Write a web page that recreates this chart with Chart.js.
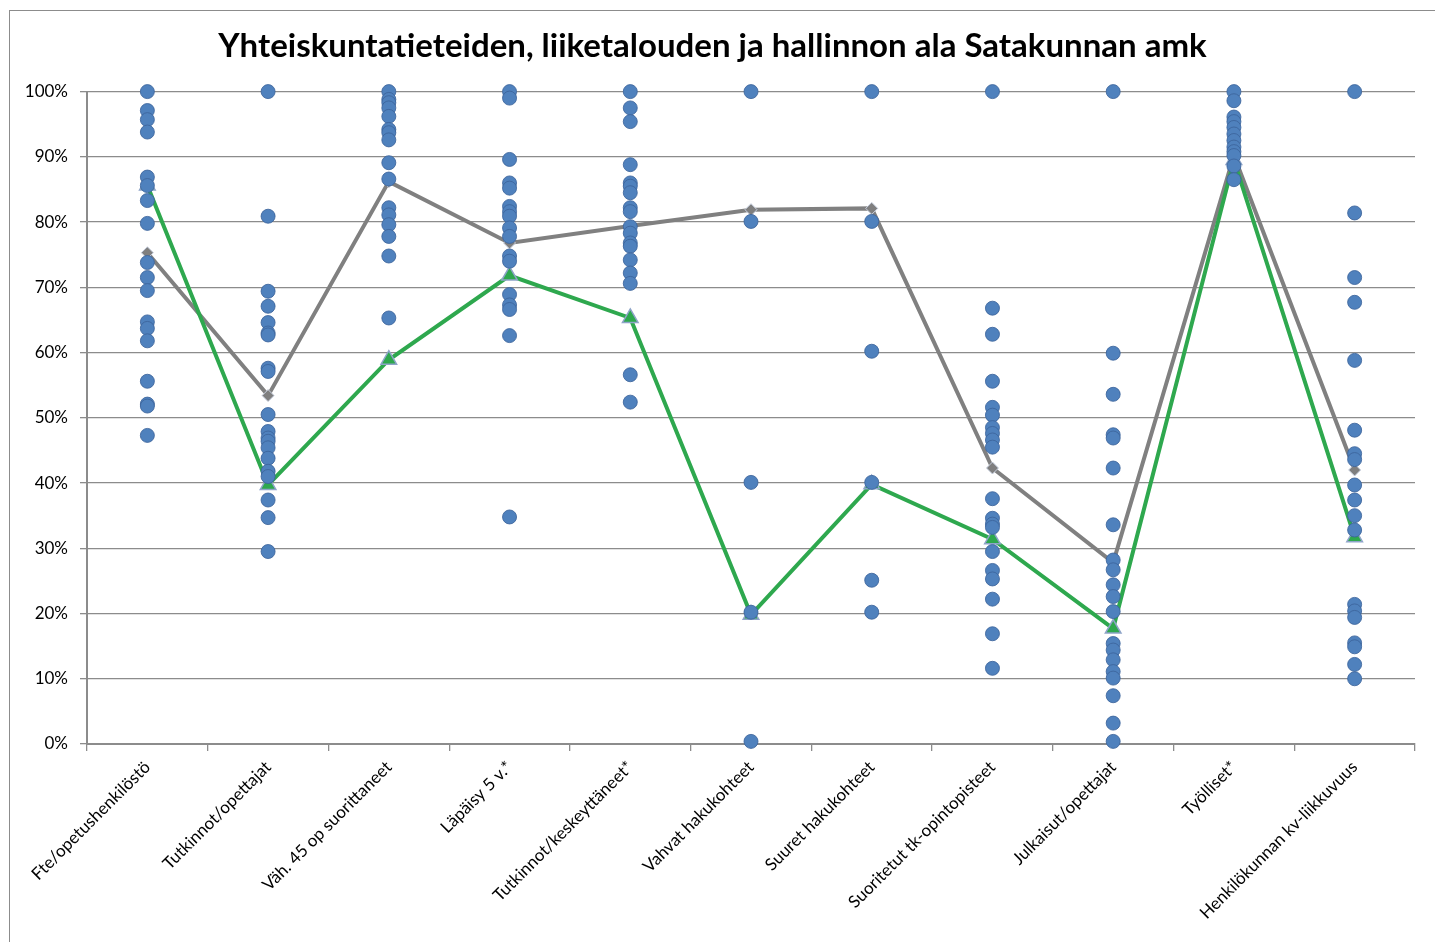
<!DOCTYPE html>
<html>
<head>
<meta charset="utf-8">
<script src="https://cdn.jsdelivr.net/npm/chart.js@4/dist/chart.umd.min.js"></script>
<style>
  body { margin: 0; background: #fff; overflow: hidden; }
  #frame { position: absolute; left: 9px; top: 10px; width: 1440px; height: 960px; border: 1px solid #8c8c8c; }
  #wrap { position: absolute; left: 0; top: 0; width: 1435px; height: 942px; }
</style>
</head>
<body>
<div id="frame"></div>
<div id="wrap"><canvas id="ammChart"></canvas></div>
<script>
// Categories (x axis)
const categories = [
    'Fte/opetushenkilöstö', 'Tutkinnot/opettajat', 'Väh. 45 op suorittaneet', 'Läpäisy 5 v.*',
    'Tutkinnot/keskeyttäneet*', 'Vahvat hakukohteet', 'Suuret hakukohteet',
    'Suoritetut tk-opintopisteet', 'Julkaisut/opettajat', 'Työlliset*', 'Henkilökunnan kv-liikkuvuus'
];

// Other amk's (blue dots), one array per category, percent
const fteDots = [100, 97.1, 95.7, 93.8, 86.9, 85.6, 83.3, 79.8, 73.8, 71.5, 69.5, 64.7, 63.7, 61.8, 55.6, 52.1, 51.8, 47.3];
const tutkinnotOpeDots = [100, 80.9, 69.4, 67.1, 64.6, 63.0, 62.7, 57.6, 57.1, 50.5, 47.9, 46.9, 46.4, 45.4, 43.8, 41.8, 41.0, 37.4, 34.7, 29.5];
const vah45Dots = [100, 98.8, 98.3, 97.5, 96.2, 94.2, 93.7, 92.6, 89.1, 86.6, 82.2, 81.1, 79.6, 77.8, 74.8, 65.3];
const lapaisyDots = [100, 99.0, 89.6, 86.0, 85.2, 82.4, 81.6, 80.9, 79.1, 77.8, 74.8, 74.0, 68.9, 67.3, 66.6, 62.6, 34.8];
const keskeyttaneetDots = [100, 97.5, 95.4, 88.8, 86.0, 85.5, 84.5, 82.2, 81.6, 79.3, 78.3, 76.8, 76.3, 74.2, 72.2, 70.6, 56.6, 52.4];
const vahvatDots = [100, 80.1, 40.1, 20.2, 0.4];
const suuretDots = [100, 80.1, 60.2, 40.1, 25.1, 20.2];
const tkDots = [100, 66.8, 62.8, 55.6, 51.6, 50.4, 48.5, 47.6, 46.6, 45.5, 37.6, 34.6, 33.7, 33.2, 29.5, 26.6, 25.3, 22.2, 16.9, 11.6];
const julkaisutDots = [100, 59.9, 53.6, 47.4, 46.9, 42.3, 33.6, 28.2, 26.7, 24.4, 22.6, 20.3, 15.4, 14.4, 12.9, 11.1, 10.1, 7.4, 3.2, 0.4];
const tyollisetDots = [100, 98.6, 96.1, 95.4, 94.5, 93.5, 92.5, 91.5, 90.8, 90.2, 88.6, 86.5];
const kvDots = [100, 81.4, 71.5, 67.7, 58.8, 48.1, 44.5, 43.6, 39.7, 37.4, 35.0, 32.8, 21.4, 20.4, 19.4, 15.5, 14.9, 12.2, 10.0];

// Average of all (gray line) and Satakunnan amk (green line)
const averageValues = [75.3, 53.4, 86.2, 76.8, 79.4, 81.9, 82.1, 42.3, 27.8, 90.2, 42.0];
const satakuntaValues = [85.6, 39.7, 58.9, 71.8, 65.3, 19.8, 39.8, 31.4, 17.7, 89.5, 31.7];

const yTicks = [0, 10, 20, 30, 40, 50, 60, 70, 80, 90, 100];

const dotColumns = [fteDots, tutkinnotOpeDots, vah45Dots, lapaisyDots, keskeyttaneetDots,
    vahvatDots, suuretDots, tkDots, julkaisutDots, tyollisetDots, kvDots];

const scatterPoints = [];
dotColumns.forEach(function(col, i) {
    col.forEach(function(v) {
        scatterPoints.push({ x: categories[i], y: v });
    });
});

const gridGray = '#8c8c8c';

const ctx = document.getElementById('ammChart').getContext('2d');
new Chart(ctx, {
    type: 'line',
    data: {
        labels: categories,
        datasets: [
            {
                label: 'Muut',
                data: scatterPoints,
                showLine: false,
                backgroundColor: '#4f81bd',
                borderColor: 'rgba(60, 100, 155, 0.85)',
                borderWidth: 1,
                pointRadius: 7,
                pointHoverRadius: 7,
                clip: false,
                order: 0
            },
            {
                label: 'Kaikki',
                data: averageValues,
                borderColor: '#808080',
                borderWidth: 4,
                pointStyle: 'rectRot',
                pointRadius: 6,
                pointBackgroundColor: '#7f7f7f',
                pointBorderColor: '#c8d0e0',
                pointBorderWidth: 1,
                tension: 0,
                clip: false,
                order: 2
            },
            {
                label: 'Satakunnan amk',
                data: satakuntaValues,
                borderColor: '#2ea84e',
                borderWidth: 4,
                pointStyle: 'triangle',
                pointRadius: 9,
                pointBackgroundColor: '#2ea84e',
                pointBorderColor: '#8ea4c8',
                pointBorderWidth: 1.5,
                tension: 0,
                clip: false,
                order: 1
            }
        ]
    },
    options: {
        responsive: true,
        maintainAspectRatio: false,
        animation: false,
        layout: { padding: { left: 10, right: 20, top: 0, bottom: 0 } },
        plugins: {
            legend: { display: false },
            tooltip: { enabled: false },
            title: {
                display: true,
                text: 'Yhteiskuntatieteiden, liiketalouden ja hallinnon ala Satakunnan amk',
                color: '#000',
                font: { family: 'Lato', size: 33, weight: 'bold' },
                padding: { top: 27, bottom: 25 }
            }
        },
        scales: {
            x: {
                type: 'category',
                offset: true,
                grid: {
                    display: true,
                    offset: true,
                    drawOnChartArea: false,
                    drawTicks: true,
                    tickLength: 7,
                    color: gridGray,
                    lineWidth: 1.3
                },
                border: { display: true, color: gridGray, width: 2 },
                ticks: {
                    autoSkip: false,
                    minRotation: 45,
                    maxRotation: 45,
                    padding: 6,
                    color: '#000',
                    font: { family: 'Lato', size: 17 }
                },
                afterFit: function(scale) { scale.height = 198; }
            },
            y: {
                min: 0,
                max: 100,
                afterBuildTicks: function(scale) {
                    scale.ticks = yTicks.map(function(v) { return { value: v }; });
                },
                grid: {
                    color: gridGray,
                    lineWidth: 1.3,
                    drawTicks: true,
                    tickLength: 7
                },
                border: { display: true, color: gridGray, width: 2 },
                ticks: {
                    padding: 12,
                    color: '#000',
                    font: { family: 'Lato', size: 17 },
                    callback: function(value) { return value + '%'; }
                },
                afterFit: function(scale) { scale.width = 77; }
            }
        }
    }
});
</script>
</body>
</html>
